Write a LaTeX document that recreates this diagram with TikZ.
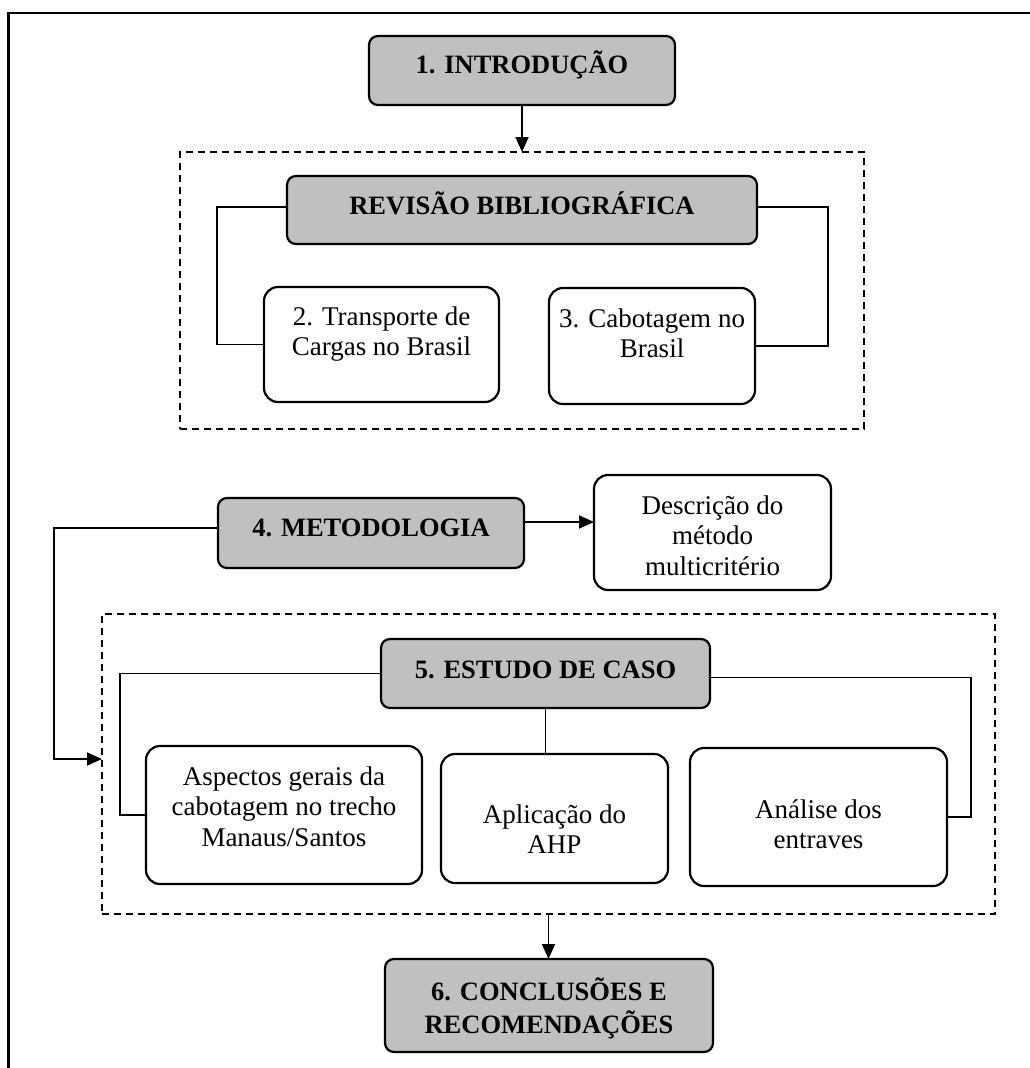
\documentclass[tikz,border=0pt]{standalone}
\usepackage{fontspec}
\setmainfont{Liberation Serif}
\usetikzlibrary{arrows.meta}
\definecolor{boxgray}{HTML}{C0C0C0}
% fixed first-line height so multi-line labels can be placed by their top
\newcommand\tstrut{\rule{0pt}{28pt}}
\begin{document}
\begin{tikzpicture}[x=1pt,y=-1pt,
  every node/.style={inner sep=0pt, outer sep=0pt},
  graybox/.style={draw, line width=2.2pt, fill=boxgray, rounded corners=9pt},
  whitebox/.style={draw, line width=2.2pt, fill=white, rounded corners=14pt},
  group/.style={draw, line width=2pt, dash pattern=on 7pt off 5pt},
  conn/.style={line width=1.8pt},
  flow/.style={conn, -{Triangle[length=15pt,width=13pt]}},
  head/.style={font=\fontsize{26.5}{33}\selectfont\bfseries, align=center},
  body/.style={font=\fontsize{27}{30.5}\selectfont, align=center},
]
\useasboundingbox (0,0) rectangle (1029,1068);

% page frame (open to the right and bottom)
\draw[line width=2.2pt] (8.5,1080) -- (8.5,13) -- (1040,13);

% dashed groups
\node[group, minimum width=684pt, minimum height=277pt] (grp1) at (522,290.5) {};
\node[group, minimum width=893pt, minimum height=300pt] (grp2) at (548.5,764) {};

% boxes
\node[graybox, minimum width=306pt, minimum height=69pt] (intro) at (522,70.5) {};
\node[graybox, minimum width=470pt, minimum height=68pt] (rev) at (522,210) {};
\node[whitebox, minimum width=235pt, minimum height=115pt] (b2) at (381.5,344.5) {};
\node[whitebox, minimum width=206pt, minimum height=116pt] (b3) at (652,346) {};
\node[graybox, minimum width=306pt, minimum height=70pt] (met) at (371,533) {};
\node[whitebox, minimum width=237pt, minimum height=115pt] (desc) at (712.5,532.5) {};
\node[graybox, minimum width=329pt, minimum height=69pt] (est) at (545.5,673.5) {};
\node[whitebox, minimum width=276pt, minimum height=138pt] (asp) at (284,815) {};
\node[whitebox, minimum width=227pt, minimum height=129pt] (ahp) at (554.5,818.5) {};
\node[whitebox, minimum width=257pt, minimum height=138pt] (ana) at (818.5,817) {};
\node[graybox, minimum width=328pt, minimum height=93pt] (concl) at (549,1005.5) {};

% labels
\node[head, anchor=base] (introT) at (522,73) {1. INTRODUÇÃO};
\node[head, anchor=base] (revT) at (522,214) {REVISÃO BIBLIOGRÁFICA};
\node[body, anchor=north] (b2T) at (381.5,297) {\tstrut 2. Transporte de\\Cargas no Brasil};
\node[body, anchor=north] (b3T) at (652,299) {\tstrut 3. Cabotagem no\\Brasil};
\node[head, anchor=base] (metT) at (371,536) {4. METODOLOGIA};
\node[body, anchor=north] (descT) at (712.5,486) {\tstrut Descrição do\\método\\multicritério};
\node[head, anchor=base] (estT) at (545.5,678) {5. ESTUDO DE CASO};
\node[body, anchor=north] (aspT) at (284,757) {\tstrut Aspectos gerais da\\cabotagem no trecho\\Manaus/Santos};
\node[body, anchor=north] (ahpT) at (554.5,795) {\tstrut Aplicação do\\AHP};
\node[body, anchor=north] (anaT) at (818.5,790) {\tstrut Análise dos\\entraves};
\node[head, anchor=north] (conclT) at (549,972) {\tstrut 6. CONCLUSÕES E\\RECOMENDAÇÕES};

% connectors
\draw[flow] (intro.south) -- (intro.south |- grp1.north);
\draw[conn] ([yshift=3pt]rev.west) -- ++(-70,0) |- (b2.west);
\draw[conn] ([yshift=3pt]rev.east) -- ++(71,0) |- (b3.east);
\draw[flow] ([yshift=11pt]met.east) -- ([yshift=11pt]met.east -| desc.west);
\draw[flow] ([yshift=5pt]met.west) -- ++(-164,0) |- ([yshift=5pt]grp2.west);
\draw[conn] (est.west) -- ++(-261,0) |- (asp.west);
\draw[conn] ([yshift=-4pt]est.east) -- ++(261,0) |- (ana.east);
\draw[conn] (est.south) -- (est.south |- ahp.north);
\draw[flow] (grp2.south) -- (grp2.south |- concl.north);
\end{tikzpicture}
\end{document}
